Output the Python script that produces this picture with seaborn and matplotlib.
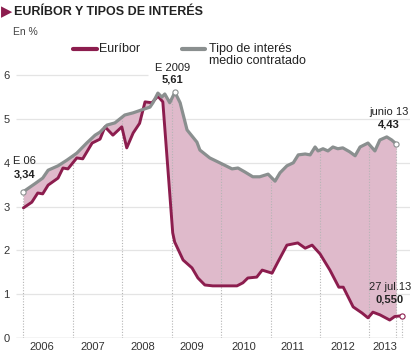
import numpy as np
import matplotlib
matplotlib.use("Agg")
import matplotlib.pyplot as plt
import seaborn as sns
from matplotlib.lines import Line2D

# ---------------- data ----------------
grey_t = [2006.00, 2006.23, 2006.39, 2006.50, 2006.70, 2006.88, 2007.08, 2007.28, 2007.45,
          2007.55, 2007.69, 2007.85, 2008.05, 2008.22, 2008.40, 2008.56, 2008.62, 2008.72,
          2008.80, 2008.86, 2008.96, 2009.065, 2009.17, 2009.31, 2009.51, 2009.57, 2009.77,
          2009.97, 2010.22, 2010.34, 2010.48, 2010.64, 2010.78, 2010.95, 2011.09, 2011.19,
          2011.33, 2011.46, 2011.56, 2011.70, 2011.80, 2011.90, 2011.96, 2012.06, 2012.16,
          2012.26, 2012.36, 2012.46, 2012.60, 2012.71, 2012.81, 2012.97, 2013.11, 2013.21,
          2013.35, 2013.45, 2013.54]
grey_v = [3.34, 3.52, 3.65, 3.83, 3.93, 4.06, 4.22, 4.45, 4.63,
          4.70, 4.86, 4.91, 5.09, 5.14, 5.21, 5.27, 5.37, 5.59,
          5.50, 5.57, 5.37, 5.61, 5.37, 4.75, 4.47, 4.29, 4.11,
          4.00, 3.86, 3.88, 3.79, 3.68, 3.68, 3.74, 3.58, 3.77,
          3.93, 4.00, 4.18, 4.20, 4.18, 4.36, 4.27, 4.32, 4.27,
          4.36, 4.32, 4.34, 4.25, 4.16, 4.36, 4.45, 4.27, 4.52,
          4.59, 4.52, 4.43]

euri_t = [2006.00, 2006.17, 2006.29, 2006.39, 2006.50, 2006.70, 2006.80, 2006.90, 2007.08,
          2007.20, 2007.39, 2007.55, 2007.65, 2007.81, 2007.99, 2008.09, 2008.22, 2008.35,
          2008.46, 2008.60, 2008.72, 2008.82, 2009.02, 2009.06, 2009.23, 2009.41, 2009.53,
          2009.67, 2009.83, 2010.32, 2010.44, 2010.54, 2010.72, 2010.83, 2011.03, 2011.15,
          2011.33, 2011.55, 2011.70, 2011.84, 2012.00, 2012.20, 2012.38, 2012.47, 2012.67,
          2012.85, 2012.97, 2013.07, 2013.21, 2013.41, 2013.51, 2013.66]
euri_v = [2.97, 3.10, 3.31, 3.29, 3.49, 3.65, 3.88, 3.86, 4.11,
          4.09, 4.45, 4.54, 4.82, 4.63, 4.82, 4.34, 4.68, 4.90,
          5.39, 5.37, 5.52, 5.39, 2.40, 2.19, 1.78, 1.60, 1.37,
          1.21, 1.19, 1.19, 1.26, 1.37, 1.39, 1.55, 1.48, 1.74,
          2.12, 2.17, 2.05, 2.12, 1.92, 1.55, 1.16, 1.16, 0.71,
          0.57, 0.46, 0.59, 0.53, 0.41, 0.49, 0.51]

year_labels = ["2006", "2007", "2008", "2009", "2010", "2011", "2012", "2013"]
year_label_pos = [2006.37, 2007.41, 2008.42, 2009.41, 2010.46, 2011.45, 2012.46, 2013.31]
year_lines = [2006, 2007, 2008, 2009, 2010, 2011, 2012, 2013]
y_ticks = [0, 1, 2, 3, 4, 5, 6]

MAROON = "#8c1d4e"
GREY = "#8a8f8f"
PINK = "#dfbacb"
TXT = "#222222"

# ---------------- figure ----------------
sns.set_theme(style="white")
plt.rcParams["font.family"] = ["Liberation Sans", "DejaVu Sans"]

W, H = 414, 356
fig = plt.figure(figsize=(W / 100, H / 100), dpi=100)
fig.patch.set_facecolor("white")


def fx(x):
    return x / W


def fy(y):
    return 1 - y / H


ax = fig.add_axes([fx(16), 18 / H, (410 - 16) / W, (338 - 62) / H])
ax.set_facecolor("white")
ax.set_xlim(2005.85, 2013.82)
ax.set_ylim(0, 6.3)
for s in ax.spines.values():
    s.set_visible(False)

# horizontal grid
ax.hlines([1, 2, 3, 4, 5], 2005.85, 2013.82, color="#e4e4e4", lw=0.9, zorder=0)
ax.hlines([6], 2005.85, 2008.52, color="#e4e4e4", lw=0.9, zorder=0)
ax.axhline(0, xmin=0, xmax=(403 - 16) / (410 - 16), color="#c8c8c8", lw=1.0, zorder=1)

# fill between series
gt = np.array(grey_t)
gv = np.array(grey_v)
et = np.array(euri_t)
ev = np.array(euri_v)
xs = np.union1d(gt, et)
xs = xs[xs <= gt[-1]]
g_i = np.interp(xs, gt, gv)
e_i = np.interp(xs, et, ev)
ax.fill_between(xs, e_i, g_i, color=PINK, lw=0, zorder=1)

# dotted verticals
tops = [max(np.interp(x, gt, gv), np.interp(x, et, ev)) for x in year_lines]
ax.vlines(year_lines, 0, tops, colors="#b5b5b5", linestyles=(0, (1, 1.5)), lw=0.8, zorder=2)
ax.vlines([gt[-1], et[-1]], 0, [gv[-1], ev[-1]], colors="#b5b5b5",
          linestyles=(0, (1, 1.5)), lw=0.8, zorder=2)

# lines
sns.lineplot(x=euri_t, y=euri_v, ax=ax, color=MAROON, lw=2.1, sort=False, zorder=3)
sns.lineplot(x=grey_t, y=grey_v, ax=ax, color=GREY, lw=2.3, sort=False, zorder=4)

# end markers
ax.scatter([gt[0], grey_t[21], gt[-1]], [gv[0], grey_v[21], gv[-1]], s=14, facecolor="white",
           edgecolor=GREY, lw=0.8, zorder=5)
ax.scatter([et[-1]], [ev[-1]], s=14, facecolor="white", edgecolor=MAROON, lw=0.8, zorder=5)

# ticks
ax.set_xticks(year_label_pos)
ax.set_xticklabels(year_labels)
ax.set_yticks(y_ticks)
ax.set_yticklabels([str(v) for v in y_ticks])
ax.tick_params(axis="x", length=0, pad=3, labelsize=8, colors="#333333")
ax.tick_params(axis="y", length=0, labelsize=8, colors="#333333")
for lab in ax.get_yticklabels():
    lab.set_horizontalalignment("left")
ax.tick_params(axis="y", pad=9)
ax.set_xlabel("")
ax.set_ylabel("")
if ax.get_legend():
    ax.get_legend().remove()

# annotations
kw = dict(ha="center", va="center", fontsize=8, color=TXT, zorder=6, clip_on=False)
ax.text(2006.03, 4.04, "E 06", **kw)
ax.text(2006.03, 3.73, "3,34", fontweight="bold", **kw)
ax.text(2009.02, 6.17, "E 2009", **kw)
ax.text(2009.02, 5.91, "5,61", fontweight="bold", **kw)
ax.text(2013.40, 5.15, "junio 13", **kw)
ax.text(2013.40, 4.87, "4,43", fontweight="bold", **kw)
ax.text(2013.41, 1.16, "27 jul.13", **kw)
ax.text(2013.41, 0.88, "0,550", fontweight="bold", **kw)

# title and subtitle
fig.text(fx(0.5), fy(12), "\u25B6", fontsize=10.5, color=MAROON, va="center", ha="left",
         family=["DejaVu Sans"])
fig.text(fx(14), fy(12), "EURÍBOR Y TIPOS DE INTERÉS", fontsize=9, fontweight="bold",
         color=TXT, va="center", ha="left")
fig.text(fx(13), fy(32), "En %", fontsize=7.5, color="#444444", va="center", ha="left")

# legend
fig.add_artist(Line2D([fx(73), fx(97)], [fy(49), fy(49)], color=MAROON, lw=3,
                      solid_capstyle="round", transform=fig.transFigure))
fig.text(fx(99), fy(49), "Euríbor", fontsize=9, color=TXT, va="center", ha="left")
fig.add_artist(Line2D([fx(182), fx(205)], [fy(49), fy(49)], color=GREY, lw=3,
                      solid_capstyle="round", transform=fig.transFigure))
fig.text(fx(209), fy(49), "Tipo de interés", fontsize=9, color=TXT, va="center", ha="left")
fig.text(fx(209), fy(61), "medio contratado", fontsize=9, color=TXT, va="center", ha="left")

fig.savefig("out.png", dpi=100, facecolor="white")
